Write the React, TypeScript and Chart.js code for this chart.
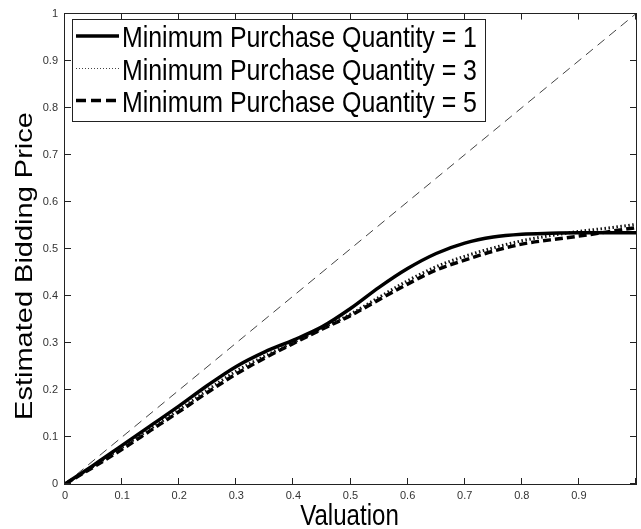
import React, { useEffect, useRef } from "react";
import { Chart, registerables } from "chart.js";

Chart.register(...registerables);

const valuation = [0, 0.05, 0.1, 0.15, 0.2, 0.25, 0.3, 0.35, 0.4, 0.45, 0.5, 0.55, 0.6, 0.65, 0.7, 0.75, 0.8, 0.85, 0.9, 0.95, 1.0];
const priceQty1 = [0, 0.040, 0.082, 0.124, 0.166, 0.210, 0.250, 0.281, 0.306, 0.334, 0.373, 0.418, 0.458, 0.490, 0.512, 0.525, 0.531, 0.533, 0.534, 0.534, 0.534];
const priceQty3 = [0, 0.038, 0.078, 0.118, 0.158, 0.200, 0.240, 0.272, 0.301, 0.331, 0.361, 0.397, 0.432, 0.462, 0.484, 0.502, 0.517, 0.528, 0.537, 0.544, 0.552];
const priceQty5 = [0, 0.036, 0.074, 0.114, 0.154, 0.195, 0.234, 0.268, 0.299, 0.329, 0.358, 0.392, 0.425, 0.455, 0.476, 0.495, 0.510, 0.519, 0.527, 0.536, 0.545];
const diagonalX = [0, 1];
const diagonalY = [0, 1];
const seriesLabels = ["Minimum Purchase Quantity = 1", "Minimum Purchase Quantity = 3", "Minimum Purchase Quantity = 5"];
const tickValues = [0, 0.1, 0.2, 0.3, 0.4, 0.5, 0.6, 0.7, 0.8, 0.9, 1];
const xTitle = "Valuation";
const yTitle = "Estimated Bidding Price";

const FONT = "'Liberation Sans', Arial, sans-serif";
const SQ = 0.83;

const fmt = (v: number) => {
  const r = Math.round(v * 10) / 10;
  if (r === 0) return "0";
  if (r === 1) return "1";
  return r.toFixed(1);
};

const framePlugin = {
  id: "matlabFrame",
  afterDatasetsDraw(chart: any) {
    const { ctx, chartArea, scales } = chart;
    const { left, right, top, bottom } = chartArea;
    ctx.save();
    ctx.strokeStyle = "#222";
    ctx.lineWidth = 1;
    ctx.setLineDash([]);
    ctx.strokeRect(Math.round(left) - 0.5, Math.round(top) - 0.5, Math.round(right - left) + 1, Math.round(bottom - top) + 1);
    const tl = 6;
    ctx.beginPath();
    tickValues.forEach((v) => {
      const px = Math.round(scales.x.getPixelForValue(v)) - 0.5;
      ctx.moveTo(px, bottom);
      ctx.lineTo(px, bottom - tl);
      ctx.moveTo(px, top);
      ctx.lineTo(px, top + tl);
      const py = Math.round(scales.y.getPixelForValue(v)) - 0.5;
      ctx.moveTo(left, py);
      ctx.lineTo(left + tl, py);
      ctx.moveTo(right, py);
      ctx.lineTo(right - tl, py);
    });
    ctx.stroke();

    const lx = 72.5, ly = 19.5, lw = 413, lh = 102;
    ctx.fillStyle = "#fff";
    ctx.fillRect(lx, ly, lw, lh);
    ctx.strokeStyle = "#222";
    ctx.lineWidth = 1;
    ctx.strokeRect(lx, ly, lw, lh);
    const baselines = [47, 79.5, 111.5];
    const sampleStyles = [
      { w: 3.5, dash: [] as number[], color: "#000" },
      { w: 1, dash: [1, 2], color: "#444" },
      { w: 3.5, dash: [10, 5], color: "#000" },
    ];
    seriesLabels.forEach((label, i) => {
      const s = sampleStyles[i];
      const yy = baselines[i] - 11;
      ctx.beginPath();
      ctx.strokeStyle = s.color;
      ctx.lineWidth = s.w;
      ctx.setLineDash(s.dash);
      ctx.moveTo(76, yy);
      ctx.lineTo(119, yy);
      ctx.stroke();
      ctx.setLineDash([]);
      ctx.save();
      ctx.translate(122, baselines[i]);
      ctx.scale(SQ, 1);
      ctx.fillStyle = "#000";
      ctx.font = `30px ${FONT}`;
      ctx.textAlign = "left";
      ctx.textBaseline = "alphabetic";
      ctx.fillText(label, 0, 0);
      ctx.restore();
    });

    ctx.fillStyle = "#000";
    ctx.save();
    ctx.translate((left + right) / 2 - 1, 525);
    ctx.scale(SQ, 1);
    ctx.font = `29px ${FONT}`;
    ctx.textAlign = "center";
    ctx.textBaseline = "alphabetic";
    ctx.fillText(xTitle, 0, 0);
    ctx.restore();

    ctx.save();
    ctx.translate(32, 266);
    ctx.scale(SQ, 1);
    ctx.rotate(-Math.PI / 2);
    ctx.font = `29px ${FONT}`;
    ctx.textAlign = "center";
    ctx.textBaseline = "alphabetic";
    ctx.fillText(yTitle, 0, 0);
    ctx.restore();

    ctx.restore();
  },
};

export default function App() {
  const ref = useRef<HTMLCanvasElement | null>(null);
  useEffect(() => {
    if (!ref.current) return;
    const toPts = (ys: number[]) => valuation.map((x, i) => ({ x, y: ys[i] }));
    const chart = new Chart(ref.current, {
      type: "line",
      data: {
        datasets: [
          {
            label: seriesLabels[0],
            data: toPts(priceQty1),
            borderColor: "#000",
            borderWidth: 3.5,
            pointRadius: 0,
            cubicInterpolationMode: "monotone",
            fill: false,
          },
          {
            label: seriesLabels[1],
            data: toPts(priceQty3),
            borderColor: "#111",
            borderWidth: 3,
            borderDash: [1.5, 2.5],
            pointRadius: 0,
            cubicInterpolationMode: "monotone",
            fill: false,
          },
          {
            label: seriesLabels[2],
            data: toPts(priceQty5),
            borderColor: "#000",
            borderWidth: 3.5,
            borderDash: [8, 4],
            pointRadius: 0,
            cubicInterpolationMode: "monotone",
            fill: false,
          },
          {
            label: "diagonal",
            data: diagonalX.map((x, i) => ({ x, y: diagonalY[i] })),
            borderColor: "#444",
            borderWidth: 1,
            borderDash: [9, 6],
            pointRadius: 0,
            fill: false,
          },
        ],
      },
      options: {
        animation: false,
        responsive: false,
        devicePixelRatio: 1,
        layout: { padding: { top: 13, left: 0, right: 0, bottom: 0 } },
        plugins: { legend: { display: false }, tooltip: { enabled: false } },
        scales: {
          x: {
            type: "linear",
            min: 0,
            max: 1,
            grid: { display: false, drawTicks: false },
            border: { display: false },
            ticks: {
              stepSize: 0.1,
              autoSkip: false,
              maxRotation: 0,
              padding: 5,
              color: "#333",
              font: { family: FONT, size: 11 },
              callback: (v: any) => (Number(v) >= 0.999 ? "" : fmt(Number(v))),
            },
            afterFit: (s: any) => {
              s.height = 45;
            },
          },
          y: {
            type: "linear",
            min: 0,
            max: 1,
            grid: { display: false, drawTicks: false },
            border: { display: false },
            ticks: {
              stepSize: 0.1,
              autoSkip: false,
              padding: 7,
              color: "#333",
              font: { family: FONT, size: 11 },
              callback: (v: any) => fmt(Number(v)),
            },
            afterFit: (s: any) => {
              s.width = 65;
            },
          },
        },
      },
      plugins: [framePlugin],
    } as any);
    return () => chart.destroy();
  }, []);
  return (
    <div style={{ position: "fixed", left: 0, top: 0, width: 641, height: 529, background: "#fff" }}>
      <canvas ref={ref} width={641} height={529} style={{ width: 641, height: 529, display: "block" }} />
    </div>
  );
}
